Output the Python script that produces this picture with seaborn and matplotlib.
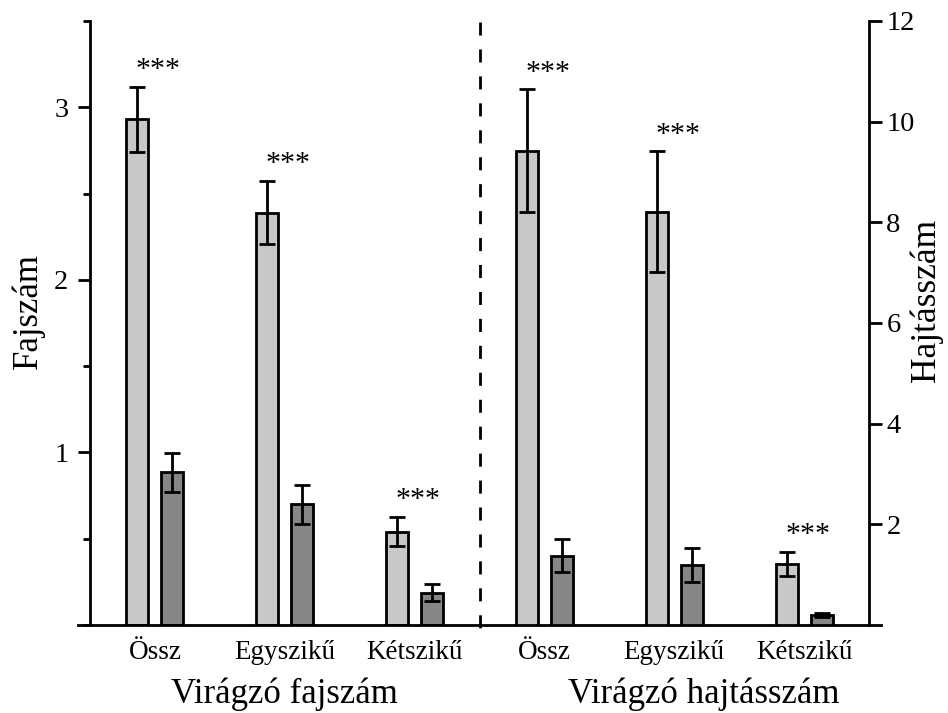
import numpy as np
import pandas as pd
import seaborn as sns
import matplotlib
matplotlib.use("Agg")
import matplotlib.pyplot as plt
from matplotlib import transforms
from matplotlib.ticker import MultipleLocator, FixedLocator

# ---------------- data ----------------
categories = ["Össz", "Egyszikű", "Kétszikű"]
group_labels = ["Virágzó fajszám", "Virágzó hajtásszám"]
series = ["világos", "sötét"]

fajszam_light = [2.93, 2.39, 0.54]
fajszam_light_err = [0.19, 0.185, 0.085]
fajszam_dark = [0.885, 0.70, 0.187]
fajszam_dark_err = [0.113, 0.113, 0.049]

hajtas_light = [9.42, 8.21, 1.22]
hajtas_light_err = [1.22, 1.20, 0.24]
hajtas_dark = [1.38, 1.19, 0.20]
hajtas_dark_err = [0.32, 0.33, 0.04]

stars = ["***", "***", "***"]

left_ticks = [1, 2, 3]
right_ticks = [2, 4, 6, 8, 10, 12]
left_ylabel = "Fajszám"
right_ylabel = "Hajtásszám"

# ---------------- style ----------------
sns.set_style("ticks")
plt.rcParams["font.family"] = ["Liberation Serif", "DejaVu Serif"]
plt.rcParams["axes.linewidth"] = 2.0
for k in ["text.color", "axes.labelcolor", "xtick.color", "ytick.color",
          "axes.edgecolor", "xtick.labelcolor", "ytick.labelcolor"]:
    plt.rcParams[k] = "black"

light_col = "#c8c8c8"
dark_col = "#868686"

slots = [f"{g}|{c}" for g in group_labels for c in categories]


def make_df(group, light, dark):
    rows = []
    for c, v in zip(categories, light):
        rows.append({"slot": f"{group}|{c}", "series": series[0], "value": v})
    for c, v in zip(categories, dark):
        rows.append({"slot": f"{group}|{c}", "series": series[1], "value": v})
    return pd.DataFrame(rows)


df_left = make_df(group_labels[0], fajszam_light, fajszam_dark)
df_right = make_df(group_labels[1], hajtas_light, hajtas_dark)

fig = plt.figure(figsize=(9.48, 7.13), dpi=100)
ax = fig.add_axes([90 / 948, 1 - 625 / 713, (869 - 90) / 948, (625 - 21) / 713])
ax2 = ax.twinx()

bar_kw = dict(x="slot", y="value", hue="series", order=slots, hue_order=series,
              palette=[light_col, dark_col], width=0.54, gap=0.37, errorbar=None,
              edgecolor="black", linewidth=2.0, legend=False, saturation=1)
sns.barplot(data=df_left, ax=ax, **bar_kw)
sns.barplot(data=df_right, ax=ax2, **bar_kw)


def add_errors(axis, light, light_err, dark, dark_err):
    bars = sorted(axis.patches, key=lambda p: p.get_x())
    means, errs = [], []
    for a, b, c, d in zip(light, light_err, dark, dark_err):
        means += [a, c]
        errs += [b, d]
    xs = [p.get_x() + p.get_width() / 2 for p in bars]
    axis.errorbar(xs, means, yerr=errs, fmt="none", ecolor="black",
                  elinewidth=2.0, capsize=5.8, capthick=2.0, zorder=5)
    return xs


add_errors(ax, fajszam_light, fajszam_light_err, fajszam_dark, fajszam_dark_err)
add_errors(ax2, hajtas_light, hajtas_light_err, hajtas_dark, hajtas_dark_err)

# significance stars
for i, (v, e, s) in enumerate(zip(fajszam_light, fajszam_light_err, stars)):
    ax.annotate(s, xy=(i, v + e), xytext=(2.5, 7), textcoords="offset points",
                ha="center", va="baseline", fontsize=21.5)
for i, (v, e, s) in enumerate(zip(hajtas_light, hajtas_light_err, stars)):
    ax2.annotate(s, xy=(i + len(categories), v + e), xytext=(2.5, 7),
                 textcoords="offset points", ha="center", va="baseline", fontsize=21.5)

# axes limits
ax.set_xlim(-0.5, len(slots) - 0.5)
ax.set_ylim(0, 3.5)
ax2.set_ylim(0, 12)

# y ticks
ax.yaxis.set_major_locator(FixedLocator(left_ticks))
ax.yaxis.set_minor_locator(MultipleLocator(0.5))
ax.tick_params(axis="y", which="major", direction="out", length=8.6, width=2.0,
               labelsize=20.5, pad=7)
ax.tick_params(axis="y", which="minor", direction="out", length=5, width=2.0)
ax2.yaxis.set_major_locator(FixedLocator(right_ticks))
ax2.tick_params(axis="y", which="major", direction="out", length=9, width=2.0,
                labelsize=20.5, pad=3.5)

# x ticks
ax.set_xticks(range(len(slots)))
ax.set_xticklabels(categories * len(group_labels), fontsize=19.5)
ax.tick_params(axis="x", length=0, pad=10.5)

ax.set_xlabel("")
ax2.set_xlabel("")
ax.set_ylabel(left_ylabel, fontsize=25)
ax2.set_ylabel(right_ylabel, fontsize=25.5)
ax.yaxis.set_label_coords(-0.058, 0.52)
ax2.yaxis.set_label_coords(1.052, 0.538)

# spines
for sp in ["top", "right"]:
    ax.spines[sp].set_visible(False)
for sp in ["top", "left", "bottom"]:
    ax2.spines[sp].set_visible(False)
ax.spines["bottom"].set_bounds(-0.5 - 0.0925, len(slots) - 0.5 + 0.0925)
ax.spines["bottom"].set_linewidth(2.0)
ax.spines["left"].set_linewidth(2.0)
ax2.spines["right"].set_linewidth(2.0)

# group labels
trans = transforms.blended_transform_factory(ax.transData, ax.transAxes)
ax.text(1, -0.1145, group_labels[0], transform=trans, ha="center", va="center",
        fontsize=25)
ax.text(4.23, -0.1145, group_labels[1], transform=trans, ha="center", va="center",
        fontsize=25)

# dashed separator
xsep = len(categories) - 0.5
ax.plot([xsep, xsep], [0.9985, -0.022], transform=trans, clip_on=False,
        color="black", lw=2.0, linestyle=(0, (4.7, 5.0)))

fig.savefig("out.png", dpi=100)
